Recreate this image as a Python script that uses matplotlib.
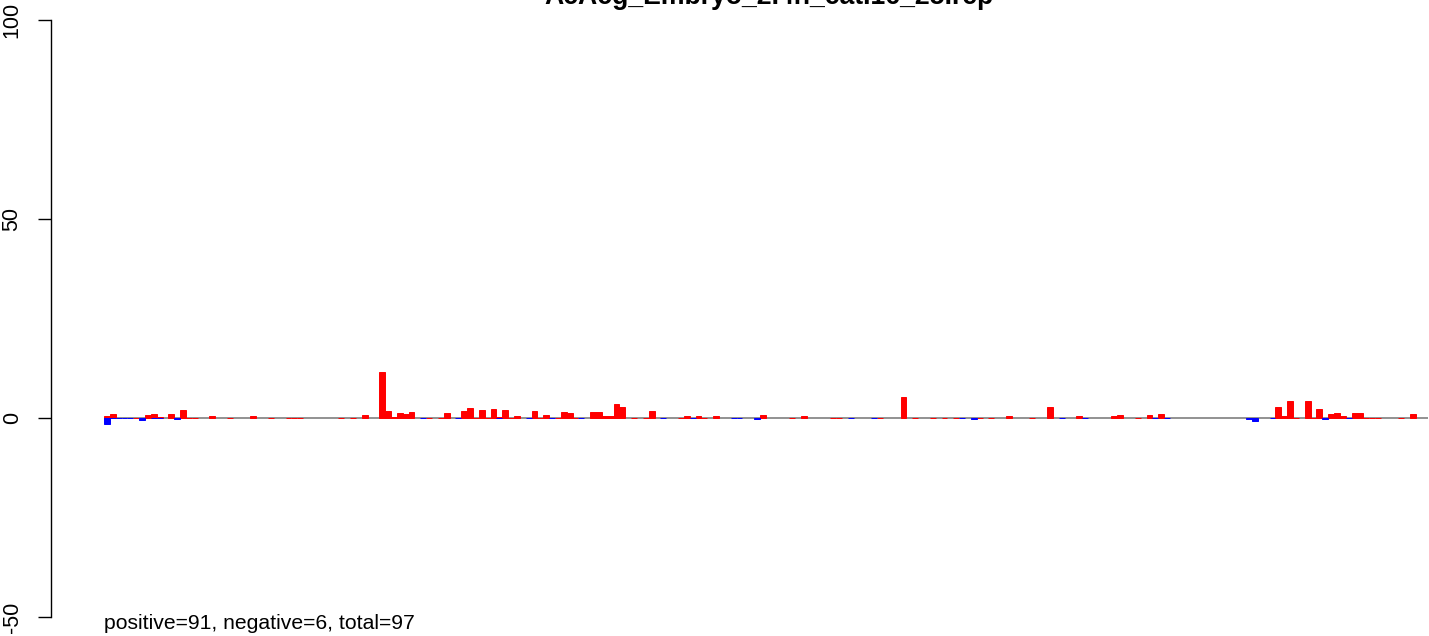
import matplotlib
matplotlib.use('Agg')
import matplotlib.pyplot as plt

title = "AcAcg_Embryo_2.4h_cat.16_25.rep"
summary = "positive=91, negative=6, total=97"
n_bars = 226

# positive (red) bars: bar index -> value (0 = flat line at zero)
red_idx = [0, 1, 5, 7, 8, 9, 11, 13, 14, 15, 18, 21, 25, 28, 31, 32, 33, 40, 42, 44,
           47, 48, 49, 50, 51, 52, 55, 57, 58, 61, 62, 63, 64, 65, 66, 67, 68, 69, 70,
           73, 74, 75, 77, 78, 79, 80, 83, 84, 85, 86, 87, 88, 90, 92, 93, 98, 99, 101,
           102, 104, 112, 117, 119, 124, 125, 132, 136, 138, 141, 143, 145, 149, 151,
           154, 158, 161, 166, 172, 173, 176, 178, 180, 195, 200, 201, 202, 203, 205,
           206, 207, 208, 209, 210, 211, 213, 214, 215, 216, 217, 221, 223]
red_val = [0.4, 0.9, 0, 0.65, 0.9, 0.35, 0.9, 1.9, 0, 0, 0.4, 0, 0.4, 0, 0, 0, 0, 0, 0, 0.65,
           11.5, 1.7, 0.35, 1.2, 0.9, 1.4, 0, 0.1, 1.2, 1.7, 2.4, 0, 1.9, 0, 2.2, 0.3, 1.9, 0, 0.4,
           1.8, 0, 0.65, 0, 1.4, 1.2, 0, 1.4, 1.4, 0.4, 0.4, 3.4, 2.7, 0, 0, 1.65, 0, 0.4, 0.4,
           0, 0.4, 0.65, 0, 0.4, 0, 0, 0, 5.2, 0, 0, 0, 0, 0, 0,
           0.4, 0, 2.7, 0.4, 0.4, 0.65, 0, 0.65, 0.9, 0, 2.7, 0.4, 4.2, 0, 4.2,
           0, 2.2, 0, 0.9, 1.15, 0.4, 1.15, 1.15, 0, 0, 0, 0, 0.9]

# negative (blue) bars
blue_idx = [0, 1, 2, 3, 4, 6, 8, 9, 12, 54, 60, 67, 72, 76, 81, 95, 100, 107, 108, 111,
            127, 131, 146, 148, 163, 167, 179, 181, 195, 196, 199, 208, 212]
blue_val = [-1.6, 0, 0, 0, 0, -0.4, 0, 0, -0.35, 0, 0, 0, 0, 0, 0, 0, 0, 0, 0, -0.35,
            0, 0, 0, -0.3, 0, 0, 0, 0, -0.2, -0.8, 0, -0.35, 0]

yticks = [-50, 0, 50, 100]

plt.rcParams['font.family'] = ['Liberation Sans', 'DejaVu Sans']
plt.rcParams['axes.unicode_minus'] = False

W, H = 1429, 636
fig = plt.figure(figsize=(W / 100, H / 100), dpi=100)

# plot region runs past the right edge, as in the cropped original
ax_left, ax_right = 51, 1481
bar0, bar_w = 104, 5.857
zero_px, unit_px = 418, 3.98
ax = fig.add_axes([ax_left / W, 0, (ax_right - ax_left) / W, 1])
ax.set_xlim((ax_left - bar0) / bar_w, (ax_right - bar0) / bar_w)
ax.set_ylim(-(H - zero_px) / unit_px, zero_px / unit_px)

ax.hlines(0, 0, n_bars, color='#7f7f7f', lw=1.2, zorder=1)
ax.bar(red_idx, red_val, width=1, align='edge', color='red', edgecolor='red', lw=0.7, zorder=2)
ax.bar(blue_idx, blue_val, width=1, align='edge', color='blue', edgecolor='blue', lw=0.7, zorder=3)

for s in ['top', 'right', 'bottom']:
    ax.spines[s].set_visible(False)
ax.spines['left'].set_bounds(-50, 100)
ax.spines['left'].set_linewidth(1.0)
ax.set_xticks([])
ax.set_yticks(yticks)
ax.set_yticklabels([str(v) for v in yticks], rotation=90, va='center')
ax.tick_params(axis='y', length=9.4, width=1.0, labelsize=15.5, pad=11)

fig.text(768.5 / W, 1 - 4 / H, title, ha='center', va='baseline', fontsize=19.2, fontweight='bold')
fig.text(bar0 / W, 1 - 629 / H, summary, ha='left', va='baseline', fontsize=15.2)

fig.savefig('out.png', dpi=100)
